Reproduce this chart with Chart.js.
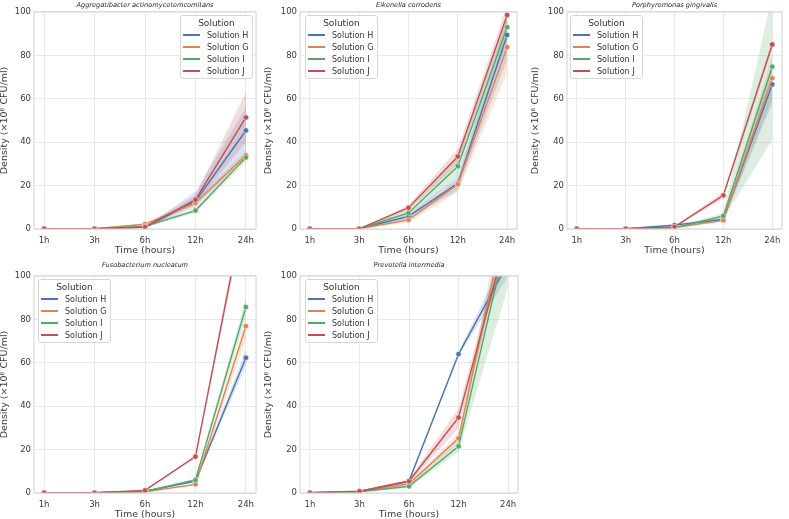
<!DOCTYPE html>
<html>
<head>
<meta charset="utf-8">
<script src="https://cdn.jsdelivr.net/npm/chart.js@4.4.1/dist/chart.umd.min.js"></script>
<style>
  body { margin: 0; background: #fff; width: 789px; height: 519px; position: relative; overflow: hidden; font-family: 'DejaVu Sans', sans-serif; }
  canvas { position: absolute; }
  .legend { position: absolute; width: 73px; height: 64px; box-sizing: border-box; background: rgba(255,255,255,0.8); border: 1px solid #d6d6d6; border-radius: 3px; color: #333; }
  .legend .ttl { font-size: 9px; line-height: 10px; height: 10px; text-align: center; margin: 2px 0 1px 0; }
  .legend .row { display: flex; align-items: center; height: 12px; font-size: 8px; white-space: nowrap; }
  .legend .sw { display: block; flex: none; width: 17px; height: 1.5px; margin: 0 7px 0 2px; }
</style>
</head>
<body>
<script>
// categories
var timeLabels = ['1h', '3h', '6h', '12h', '24h'];
var solutionNames = ['Solution H', 'Solution G', 'Solution I', 'Solution J'];
var panelTitles = ['Aggregatibacter actinomycetemcomitans', 'Eikenella corrodens', 'Porphyromonas gingivalis', 'Fusobacterium nucleatum', 'Prevotella intermedia'];

// mean density per solution (H, G, I, J), x10^6 CFU/ml
var aggregatibacterMean = [[0.1, 0.1, 0.8, 12.8, 45.4], [0.1, 0.1, 2.2, 12.0, 34.0], [0.1, 0.1, 1.2, 8.5, 33.0], [0.1, 0.1, 0.9, 13.5, 51.4]];
var aggregatibacterLow  = [[0, 0, 0.4, 10.0, 34.0], [0, 0, 1.6, 10.8, 32.0], [0, 0, 0.7, 7.5, 31.0], [0, 0, 0.5, 11.5, 40.0]];
var aggregatibacterHigh = [[0.2, 0.2, 1.2, 17.0, 56.0], [0.2, 0.2, 2.8, 13.2, 36.0], [0.2, 0.2, 1.7, 9.5, 35.0], [0.2, 0.2, 1.3, 15.5, 63.0]];

var eikenellaMean = [[0.1, 0.1, 5.8, 21.0, 89.4], [0.1, 0.1, 4.2, 20.6, 83.8], [0.1, 0.1, 7.4, 28.9, 93.0], [0.1, 0.1, 9.8, 33.4, 98.6]];
var eikenellaLow  = [[0, 0, 4.5, 18.0, 78.0], [0, 0, 3.0, 17.0, 72.0], [0, 0, 5.5, 24.0, 86.0], [0, 0, 8.5, 30.0, 94.0]];
var eikenellaHigh = [[0.2, 0.2, 7.0, 24.0, 97.0], [0.2, 0.2, 5.5, 23.0, 92.0], [0.2, 0.2, 9.0, 33.0, 99.0], [0.2, 0.2, 11.0, 37.0, 103.0]];

var porphyromonasMean = [[0.1, 0.1, 1.8, 4.5, 66.6], [0.1, 0.1, 0.7, 4.0, 69.5], [0.1, 0.1, 0.5, 6.0, 74.8], [0.1, 0.1, 1.0, 15.5, 85.0]];
var porphyromonasLow  = [[0, 0, 1.2, 3.8, 58.0], [0, 0, 0.4, 3.5, 60.0], [0, 0, 0.2, 4.5, 41.0], [0, 0, 0.7, 14.0, 83.0]];
var porphyromonasHigh = [[0.2, 0.2, 2.4, 5.2, 75.0], [0.2, 0.2, 1.0, 4.5, 80.0], [0.2, 0.2, 0.8, 7.5, 108.0], [0.2, 0.2, 1.3, 17.0, 87.0]];

var fusobacteriumMean = [[0.1, 0.1, 0.8, 5.5, 62.3], [0.1, 0.1, 0.5, 4.0, 76.9], [0.1, 0.1, 0.7, 6.0, 85.7], [0.1, 0.1, 1.2, 16.8, 135.0]];
var fusobacteriumLow  = [[0, 0, 0.5, 5.0, 59.0], [0, 0, 0.3, 3.5, 71.0], [0, 0, 0.4, 5.3, 81.0], [0, 0, 0.9, 16.2, 130.0]];
var fusobacteriumHigh = [[0.2, 0.2, 1.1, 6.0, 66.0], [0.2, 0.2, 0.8, 4.5, 80.0], [0.2, 0.2, 1.0, 6.8, 90.0], [0.2, 0.2, 1.5, 17.4, 140.0]];

var prevotellaMean = [[0.1, 0.7, 5.5, 64.0, 106.0], [0.1, 0.7, 4.2, 25.2, 131.0], [0.1, 0.6, 3.1, 21.5, 120.0], [0.1, 0.8, 5.4, 34.8, 120.0]];
var prevotellaLow  = [[0, 0.5, 5.0, 63.0, 100.0], [0, 0.5, 3.5, 23.0, 126.0], [0, 0.4, 2.3, 19.0, 95.0], [0, 0.6, 4.5, 30.0, 115.0]];
var prevotellaHigh = [[0.2, 0.9, 6.0, 65.0, 112.0], [0.2, 0.9, 5.0, 27.5, 136.0], [0.2, 0.8, 3.9, 24.0, 145.0], [0.2, 1.0, 6.5, 39.0, 125.0]];

var lineColors = ['#4c72b0', '#dd8452', '#55a868', '#c44e52'];
var bandColors = ['rgba(76,114,176,0.2)', 'rgba(221,132,82,0.2)', 'rgba(85,168,104,0.2)', 'rgba(196,78,82,0.2)'];

var panelData = [
  [aggregatibacterMean, aggregatibacterLow, aggregatibacterHigh],
  [eikenellaMean, eikenellaLow, eikenellaHigh],
  [porphyromonasMean, porphyromonasLow, porphyromonasHigh],
  [fusobacteriumMean, fusobacteriumLow, fusobacteriumHigh],
  [prevotellaMean, prevotellaLow, prevotellaHigh]
];

// page layout of the five panels
var panelBoxes = [
  { left: 0,   top: 0,   width: 262, height: 258, axisW: 34, padR: 6, xH: 29, titlePad: { top: 1, bottom: 2.6 }, xTitlePadB: 3.2, legLeft: 180, legTop: 15 },
  { left: 264, top: 0,   width: 260, height: 258, axisW: 36, padR: 7, xH: 29, titlePad: { top: 1, bottom: 2.6 }, xTitlePadB: 3.2, legLeft: 305, legTop: 15 },
  { left: 531, top: 0,   width: 258, height: 258, axisW: 36, padR: 7, xH: 29, titlePad: { top: 1, bottom: 2.6 }, xTitlePadB: 3.2, legLeft: 570, legTop: 15 },
  { left: 0,   top: 258, width: 262, height: 261, axisW: 34, padR: 6, xH: 26, titlePad: { top: 2.8, bottom: 6.8 }, xTitlePadB: 0.2, legLeft: 38, legTop: 279 },
  { left: 264, top: 258, width: 260, height: 261, axisW: 36, padR: 6, xH: 26, titlePad: { top: 2.8, bottom: 6.8 }, xTitlePadB: 0.2, legLeft: 305, legTop: 279 }
];

var textColor = '#3a3a3a';
var gridColor = '#e6e6e6';

var framePlugin = {
  id: 'frame',
  afterDatasetsDraw: function(chart) {
    var a = chart.chartArea, c = chart.ctx;
    c.save();
    c.strokeStyle = '#d2d2d2';
    c.lineWidth = 1;
    c.strokeRect(a.left, a.top, a.right - a.left, a.bottom - a.top);
    c.restore();
  }
};

function points(arr) {
  return arr.map(function(v, k) { return { x: k, y: v }; });
}

function buildDatasets(means, lows, highs) {
  var sets = [];
  solutionNames.forEach(function(name, i) {
    sets.push({ label: name + ' upper', data: points(highs[i]), borderWidth: 0, pointRadius: 0, backgroundColor: bandColors[i], fill: '+1', order: 10 });
    sets.push({ label: name + ' lower', data: points(lows[i]), borderWidth: 0, pointRadius: 0, fill: false, order: 10 });
    sets.push({
      label: name,
      data: points(means[i]),
      borderColor: lineColors[i],
      backgroundColor: lineColors[i],
      borderWidth: 1.4,
      pointRadius: 2.7,
      pointBorderColor: '#ffffff',
      pointBorderWidth: 0.5,
      fill: false,
      order: 4 - i
    });
  });
  return sets;
}

function makeLegend(box) {
  var div = document.createElement('div');
  div.className = 'legend';
  div.style.left = box.legLeft + 'px';
  div.style.top = box.legTop + 'px';
  var html = '<div class="ttl">Solution</div>';
  solutionNames.forEach(function(name, i) {
    html += '<div class="row"><span class="sw" style="background:' + lineColors[i] + '"></span>' + name + '</div>';
  });
  div.innerHTML = html;
  document.body.appendChild(div);
}

panelBoxes.forEach(function(box, p) {
  var canvas = document.createElement('canvas');
  canvas.width = box.width;
  canvas.height = box.height;
  canvas.style.left = box.left + 'px';
  canvas.style.top = box.top + 'px';
  canvas.style.width = box.width + 'px';
  canvas.style.height = box.height + 'px';
  document.body.appendChild(canvas);

  var d = panelData[p];
  new Chart(canvas, {
    type: 'line',
    data: { datasets: buildDatasets(d[0], d[1], d[2]) },
    plugins: [framePlugin],
    options: {
      responsive: false,
      animation: false,
      devicePixelRatio: 1,
      layout: { padding: { left: 0, right: box.padR, top: 0, bottom: 0 } },
      plugins: {
        legend: { display: false },
        tooltip: { enabled: false },
        title: {
          display: true,
          fullSize: false,
          text: panelTitles[p],
          color: '#262626',
          font: { family: 'DejaVu Sans', size: 6.6, style: 'italic', weight: 'normal', lineHeight: 1.27 },
          padding: box.titlePad
        }
      },
      scales: {
        x: {
          type: 'linear',
          min: -0.2,
          max: 4.2,
          afterBuildTicks: function(s) { s.ticks = timeLabels.map(function(t, i) { return { value: i }; }); },
          afterFit: function(s) { s.height = box.xH; },
          ticks: {
            autoSkip: false,
            maxRotation: 0,
            padding: 7,
            color: textColor,
            font: { family: 'DejaVu Sans', size: 8.5 },
            callback: function(v) { return timeLabels[v]; }
          },
          grid: { color: gridColor, lineWidth: 0.9, drawTicks: false },
          border: { display: false },
          title: {
            display: true,
            text: 'Time (hours)',
            color: textColor,
            font: { family: 'DejaVu Sans', size: 9.5, lineHeight: 1 },
            padding: { top: 0, bottom: box.xTitlePadB }
          }
        },
        y: {
          min: 0,
          max: 100,
          afterFit: function(s) { s.width = box.axisW; },
          ticks: { stepSize: 20, padding: 3, color: textColor, font: { family: 'DejaVu Sans', size: 8.5 } },
          grid: { color: gridColor, lineWidth: 0.9, drawTicks: false },
          border: { display: false },
          title: {
            display: true,
            text: 'Density (×10⁶ CFU/ml)',
            color: textColor,
            font: { family: 'DejaVu Sans', size: 9.5, lineHeight: 1 },
            padding: 0
          }
        }
      }
    }
  });
  makeLegend(box);
});
</script>
</body>
</html>
